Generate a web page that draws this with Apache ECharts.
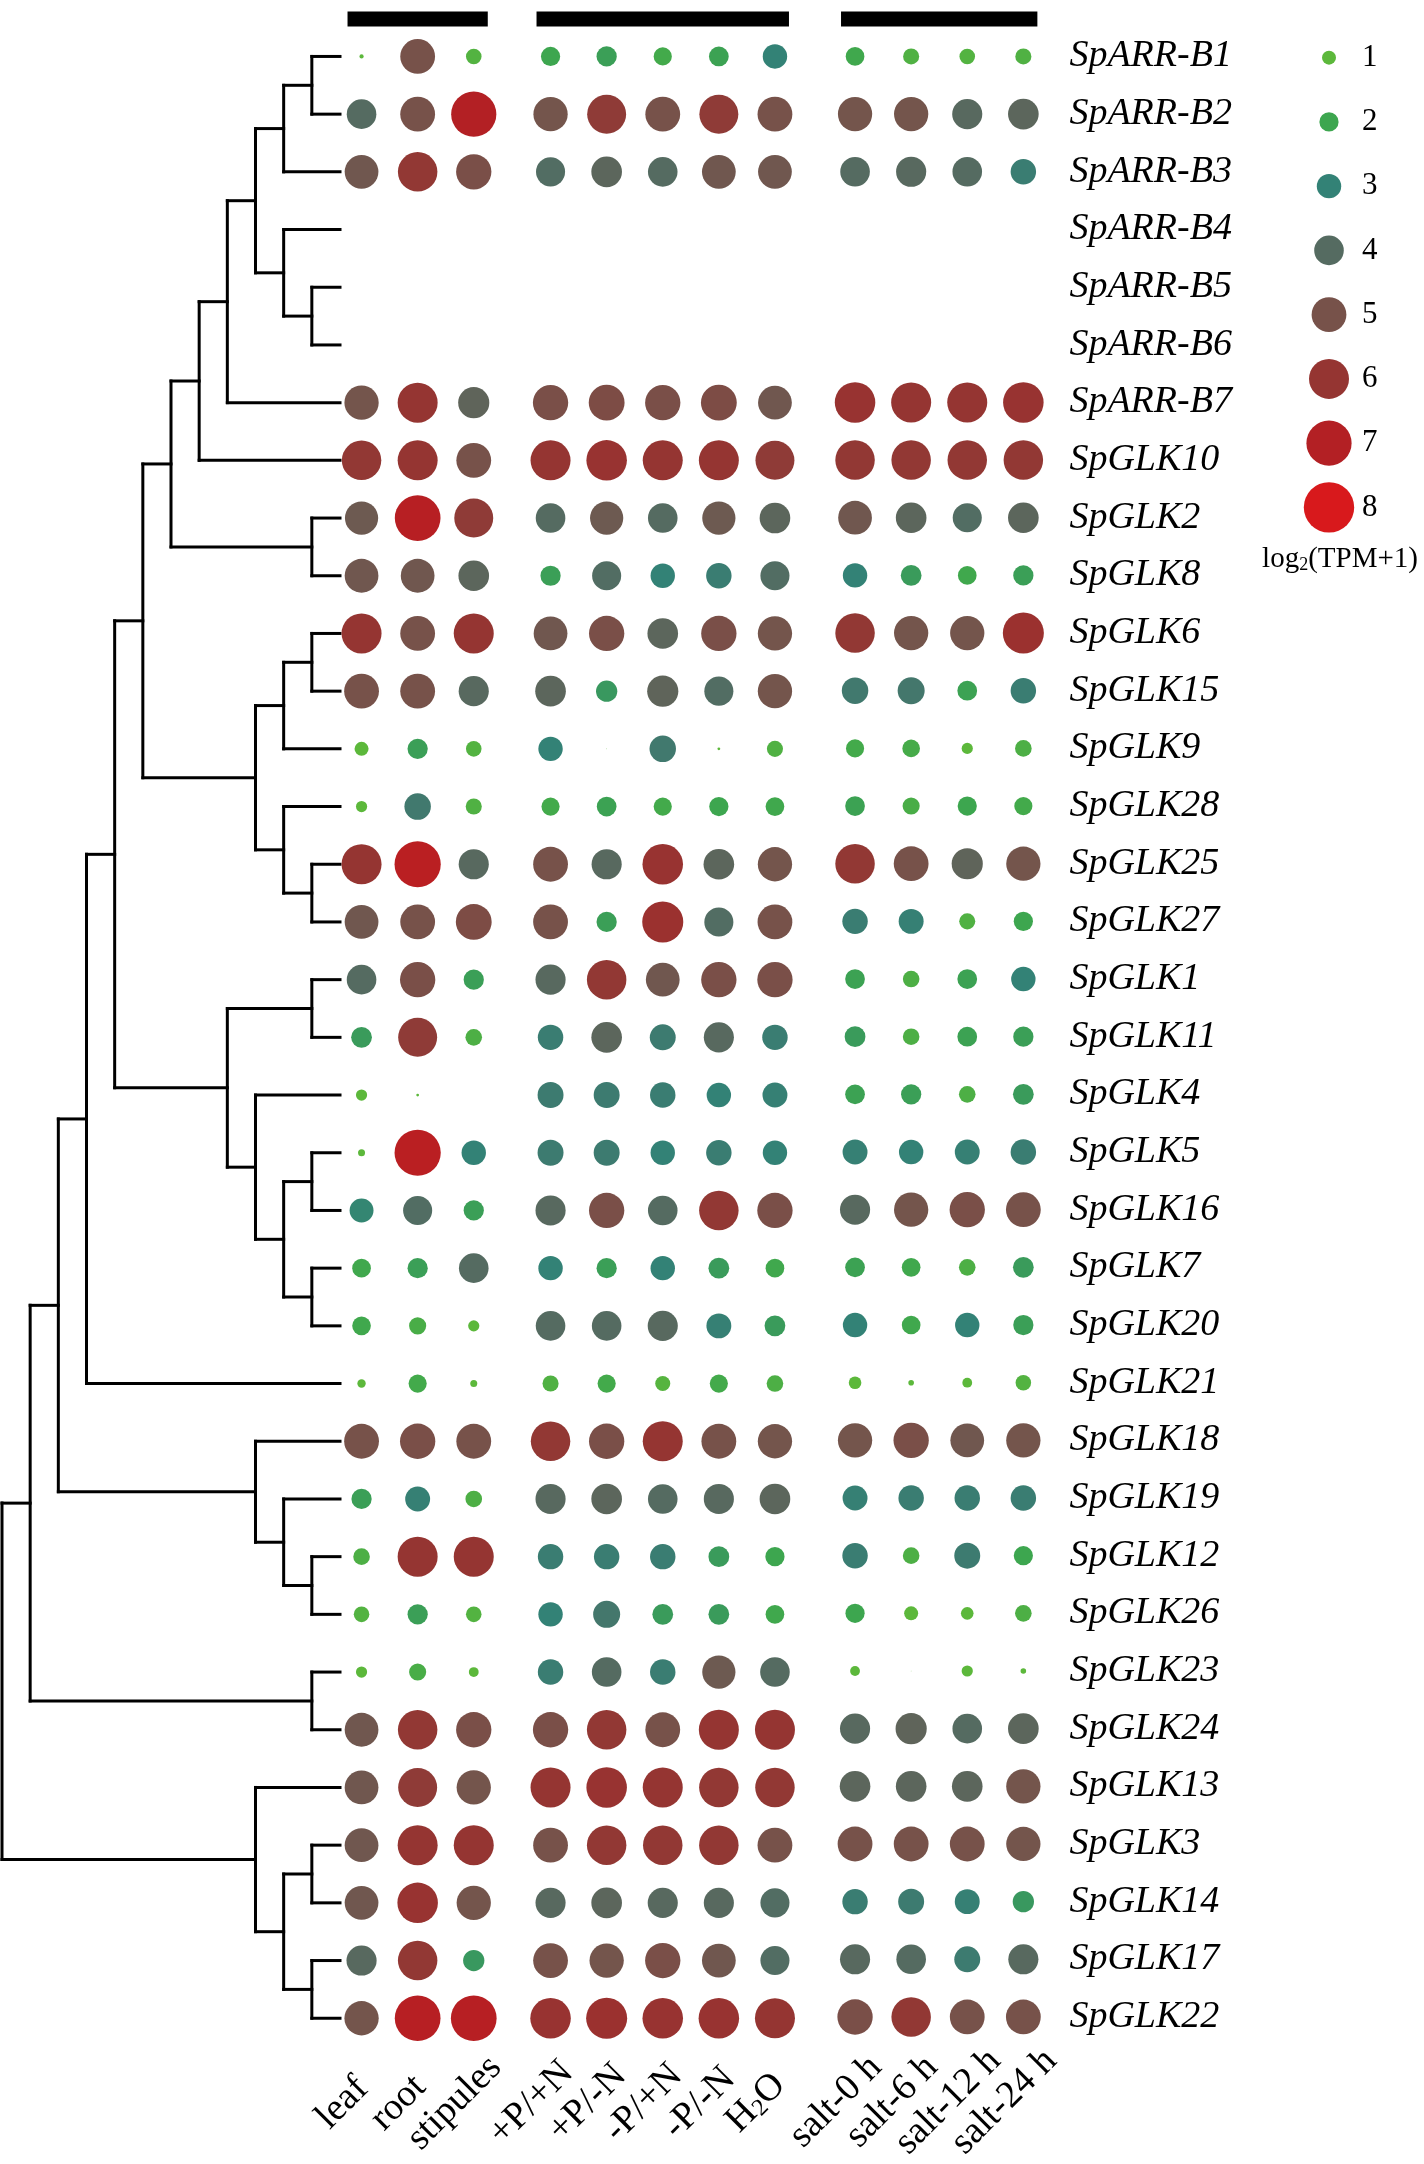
<!DOCTYPE html>
<html><head><meta charset="utf-8">
<script src="https://cdn.jsdelivr.net/npm/echarts@6/dist/echarts.min.js"></script>
<style>html,body{margin:0;padding:0;background:#fff}#c{width:1424px;height:2164px}</style>
</head><body><div id="c"></div>
<script>
const genes = ['SpARR-B1','SpARR-B2','SpARR-B3','SpARR-B4','SpARR-B5','SpARR-B6','SpARR-B7',
  'SpGLK10','SpGLK2','SpGLK8','SpGLK6','SpGLK15','SpGLK9','SpGLK28','SpGLK25','SpGLK27',
  'SpGLK1','SpGLK11','SpGLK4','SpGLK5','SpGLK16','SpGLK7','SpGLK20','SpGLK21','SpGLK18',
  'SpGLK19','SpGLK12','SpGLK26','SpGLK23','SpGLK24','SpGLK13','SpGLK3','SpGLK14','SpGLK17','SpGLK22'];
const tissueCols = ['leaf','root','stipules'];
const nutrientCols = ['+P/+N','+P/-N','-P/+N','-P/-N','H2O'];
const saltCols = ['salt-0 h','salt-6 h','salt-12 h','salt-24 h'];

const tissueValues = [
[0.3,5.0,1.3],[4.0,5.0,7.0],[4.8,5.9,5.1],[0,0,0],[0,0,0],[0,0,0],[4.9,6.0,4.3],
[5.9,6.0,5.0],[4.7,7.1,5.8],[4.8,4.8,4.2],[6.0,5.0,6.0],[5.0,5.0,4.1],[1.0,2.2,1.3],
[0.8,3.4,1.4],[6.0,7.2,4.1],[4.8,5.0,5.2],[4.0,5.1,2.2],[2.3,5.8,1.5],[0.8,0.2,0],
[0.5,7.2,3.0],[2.9,3.9,2.2],[1.9,2.2,4.0],[1.9,1.6,0.8],[0.6,1.8,0.5],[5.0,5.1,5.0],
[2.2,3.1,1.5],[1.5,6.0,6.0],[1.3,2.2,1.3],[0.8,1.6,0.7],[4.8,5.9,5.1],[4.8,5.8,4.9],
[4.8,6.0,6.0],[4.8,6.1,4.9],[4.1,5.9,2.4],[4.9,7.1,7.1]];
const nutrientValues = [
[2.0,2.2,1.8,2.1,3.0],[4.9,5.8,5.0,5.8,5.0],[3.9,4.2,4.0,4.8,4.8],[0,0,0,0,0],[0,0,0,0,0],[0,0,0,0,0],
[5.1,5.2,5.1,5.2,4.8],[6.0,6.1,6.0,6.0,5.8],[4.0,4.7,4.0,4.7,4.2],[2.2,3.9,3.0,3.2,3.9],
[4.8,5.1,4.2,5.1,4.9],[4.2,2.4,4.3,3.9,4.9],[3.0,0.05,3.4,0.2,1.4],[1.8,2.1,1.8,2.0,1.9],
[5.0,4.1,6.1,4.2,4.9],[5.0,2.2,6.2,3.9,5.0],[4.1,5.9,4.8,5.1,5.1],[3.2,4.2,3.3,4.1,3.2],
[3.3,3.3,3.2,3.0,3.1],[3.3,3.3,3.0,3.2,3.0],[4.1,5.1,4.0,5.9,5.1],[3.0,2.2,3.0,2.3,1.9],
[4.0,4.0,4.1,3.1,2.3],[1.4,1.8,1.2,1.8,1.5],[5.9,5.1,6.0,5.0,4.9],[4.1,4.2,4.0,4.1,4.2],
[3.2,3.2,3.2,2.3,2.0],[3.0,3.5,2.3,2.3,1.9],[3.2,4.0,3.2,4.7,4.0],[5.1,5.9,5.0,6.0,6.0],
[6.0,6.1,6.0,5.9,5.9],[5.0,5.9,5.9,5.9,5.0],[4.1,4.2,4.1,4.1,3.9],[5.0,4.9,5.1,4.8,3.9],
[6.1,6.2,6.1,6.1,6.0]];
const saltValues = [
[1.9,1.4,1.3,1.4],[4.9,4.9,4.1,4.2],[4.0,4.1,4.0,3.2],[0,0,0,0],[0,0,0,0],[0,0,0,0],
[6.1,6.0,6.0,6.1],[5.9,5.9,5.9,5.9],[4.8,4.2,3.9,4.2],[3.0,2.3,1.9,2.2],[5.9,4.9,4.9,6.2],
[3.4,3.5,2.1,3.2],[1.8,1.7,0.8,1.5],[2.1,1.6,2.0,1.8],[5.9,5.0,4.3,4.9],[3.2,3.1,1.4,2.0],
[2.1,1.5,2.1,3.0],[2.3,1.5,2.1,2.2],[2.1,2.2,1.5,2.3],[3.1,3.0,3.1,3.2],[4.1,4.9,5.1,5.0],
[2.1,1.9,1.5,2.3],[3.0,1.9,3.0,2.2],[0.9,0.4,0.7,1.3],[4.9,5.1,4.8,4.9],[3.1,3.2,3.2,3.2],
[3.2,1.5,3.3,2.0],[2.0,1.0,0.9,1.5],[0.7,0.05,0.8,0.4],[4.1,4.3,4.0,4.2],[4.2,4.2,4.2,4.9],
[5.0,5.0,5.0,4.9],[3.2,3.3,3.1,2.4],[4.1,4.0,3.3,4.1],[5.1,5.9,5.0,5.0]];

const legendLevels = [1,2,3,4,5,6,7,8];
const legendColors = ['#5cb83b','#3da64f','#338276','#556b61','#77524a','#953532','#b32024','#d8191c'];
const legendTitle = 'log{s|2}(TPM+1)';

// dendrogram: [joinLevel, childA, childB]; numbers are row indices; leaves sit at level 12
const nA=[11,0,1], nB=[10,nA,2], nC=[11,4,5], nD=[10,3,nC], nE=[9,nB,nD], nF=[8,nE,6], nG=[7,nF,7], nH=[11,8,9], nI=[6,nG,nH];
const nJ1=[11,10,11], nJ2=[10,nJ1,12], nJ3=[11,14,15], nJ4=[10,13,nJ3], nJ=[9,nJ2,nJ4], nK=[5,nI,nJ];
const nL1=[11,16,17], nL2=[11,19,20], nL3=[11,21,22], nL4=[10,nL2,nL3], nL5=[9,18,nL4], nL=[8,nL1,nL5];
const nM=[4,nK,nL], nN=[3,nM,23];
const nO1=[11,26,27], nO2=[10,25,nO1], nO=[9,24,nO2], nP=[2,nN,nO];
const nQ=[11,28,29], nR=[1,nP,nQ];
const nS1=[11,31,32], nS2=[11,33,34], nS3=[10,nS1,nS2], nS=[9,30,nS3];
const tree=[0,nR,nS];

function hex(h){return [1,3,5].map(i=>parseInt(h.substr(i,2),16));}
const stops = legendColors.map(hex);
function colorOf(v){
  if(v<=1) return legendColors[0];
  if(v>=8) return legendColors[7];
  const i=Math.floor(v)-1, t=v-Math.floor(v);
  const a=stops[i], b=stops[i+1];
  return 'rgb('+a.map((x,k)=>Math.round(x+(b[k]-x)*t)).join(',')+')';
}
function sizeOf(v){
  if(v<=0) return 0;
  if(v<1) return 14*v;
  return 14+5.2*(v-1);
}

const segs=[];
function walk(n){
  if(typeof n==='number') return {y:n,x:12};
  const lv=n[0]; const cs=n.slice(1).map(walk);
  const ys=cs.map(c=>c.y);
  const y0=Math.min(...ys), y1=Math.max(...ys);
  segs.push([lv,y0,lv,y1]);
  cs.forEach(c=>segs.push([lv,c.y,c.x,c.y]));
  return {y:(y0+y1)/2,x:lv};
}
walk(tree);

const TOP=27.6, GH=2019.5, BW=56.1;
const serif='Liberation Serif';
const groups=[
  {cols:tissueCols, vals:tissueValues, left:333.5},
  {cols:nutrientCols, vals:nutrientValues, left:522.5},
  {cols:saltCols, vals:saltValues, left:827}
];
const grids=[{left:2,width:338,top:TOP,height:GH}];
const xAxes=[{type:'value',gridIndex:0,min:0,max:12,show:false}];
const yAxes=[{type:'value',gridIndex:0,min:-0.5,max:34.5,inverse:true,show:false}];
const series=[{
  type:'custom',xAxisIndex:0,yAxisIndex:0,data:segs,encode:{x:[0,2],y:[1,3]},silent:true,
  renderItem:(p,api)=>{
    const a=api.coord([api.value(0),api.value(1)]), b=api.coord([api.value(2),api.value(3)]);
    return {type:'line',shape:{x1:a[0],y1:a[1],x2:b[0],y2:b[1]},style:{stroke:'#000',lineWidth:3,lineCap:'square'}};
  }
}];
groups.forEach((g,gi)=>{
  const idx=gi+1;
  grids.push({left:g.left,width:BW*g.cols.length,top:TOP,height:GH});
  xAxes.push({type:'category',gridIndex:idx,data:g.cols,position:'bottom',
    axisLine:{show:false},axisTick:{show:false},splitLine:{show:false},
    axisLabel:{interval:0,rotate:45,margin:56,align:'center',verticalAlign:'middle',padding:[0,27,27,0],
      color:'#000',fontFamily:serif,fontSize:38,
      formatter:v=>v==='H2O'?'H{sub|2}O':v,
      rich:{sub:{fontFamily:serif,fontSize:24,color:'#000',padding:[14,0,0,0]}}}});
  const isLast=gi===2;
  yAxes.push({type:'category',gridIndex:idx,data:genes,inverse:true,position:'right',
    show:isLast,axisLine:{show:false},axisTick:{show:false},splitLine:{show:false},
    axisLabel:{show:isLast,align:'left',margin:18,color:'#000',fontFamily:serif,fontStyle:'italic',fontSize:38}});
  const data=[];
  g.vals.forEach((row,r)=>row.forEach((v,c)=>data.push([c,r,v])));
  series.push({type:'scatter',xAxisIndex:idx,yAxisIndex:idx,data,silent:true,
    symbolSize:val=>sizeOf(val[2]),itemStyle:{color:p=>colorOf(p.value[2]),opacity:1}});
  series.push({type:'custom',xAxisIndex:idx,yAxisIndex:idx,data:[[0,0,g.cols.length]],encode:{x:0,y:1},silent:true,
    renderItem:(p,api)=>{
      const n=api.value(2);
      const a=api.coord([0,0]), b=api.coord([n-1,0]);
      const w=api.size([1,0])[0];
      return {type:'rect',shape:{x:a[0]-0.25*w,y:a[1]-45,width:b[0]-a[0]+0.5*w,height:15},style:{fill:'#000'}};
    }});
});
// legend grid
grids.push({left:1309,width:40,top:25.5,height:514});
xAxes.push({type:'category',gridIndex:4,data:['k'],show:false});
yAxes.push({type:'category',gridIndex:4,data:legendLevels.map(String),inverse:true,position:'right',
  axisLine:{show:false},axisTick:{show:false},splitLine:{show:false},
  axisLabel:{align:'left',margin:13,color:'#000',fontFamily:serif,fontSize:31}});
series.push({type:'scatter',xAxisIndex:4,yAxisIndex:4,data:legendLevels.map((v,i)=>[0,i,v]),silent:true,
  symbolSize:val=>sizeOf(val[2]),itemStyle:{color:p=>colorOf(p.value[2]),opacity:1}});

const chart=echarts.init(document.getElementById('c'),null,{renderer:'canvas'});
chart.setOption({
  backgroundColor:'#fff',animation:false,
  grid:grids,xAxis:xAxes,yAxis:yAxes,series,
  graphic:[{type:'text',x:1340,y:559,style:{text:legendTitle,align:'center',verticalAlign:'middle',
    fill:'#000',font:'29px "Liberation Serif"',
    rich:{s:{fontFamily:serif,fontSize:18,fill:'#000',padding:[12,0,0,0]}}}}]
});
</script></body></html>
